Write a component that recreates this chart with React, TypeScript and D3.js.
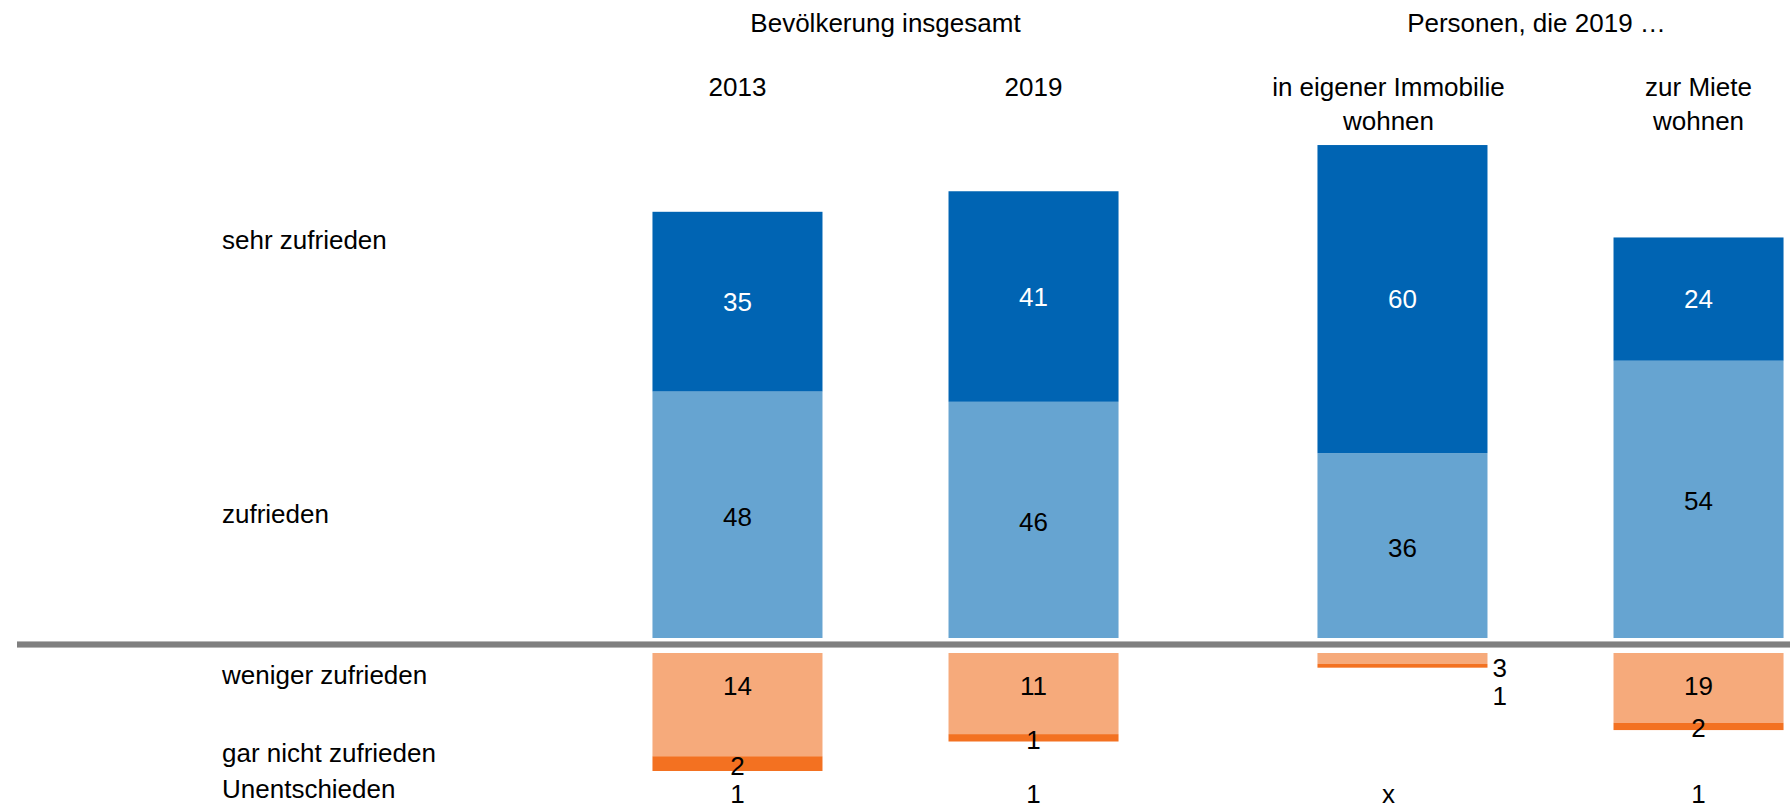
import * as d3 from "d3";

// Zufriedenheit mit der Wohnsituation, Anteile in %
const groups = ["Bevölkerung insgesamt", "Personen, die 2019 …"];
const categories = ["2013", "2019", "eigen", "miete"];
const categoryLines = [["2013"], ["2019"], ["in eigener Immobilie", "wohnen"], ["zur Miete", "wohnen"]];
const categoryGroup = [0, 0, 1, 1];

const sehrZufrieden = [35, 41, 60, 24];
const zufrieden = [48, 46, 36, 54];
const wenigerZufrieden = [14, 11, 3, 19];
const garNichtZufrieden = [2, 1, 1, 2];
const unentschieden = ["1", "1", "x", "1"];

const rowLabels = ["sehr zufrieden", "zufrieden", "weniger zufrieden", "gar nicht zufrieden", "Unentschieden"];

const W = 1790;
const H = 810;
const font = "'Liberation Sans', Arial, sans-serif";
const fs = 26;

const colors = {
  sehr: "#0064b3",
  zuf: "#66a4d1",
  weniger: "#f6aa7b",
  gar: "#f37121",
  rule: "#7f7f7f",
};

// outer scale for the two groups, inner scale for the bars inside a group
const xGroup = d3.scaleBand<number>().domain([0, 1]).range([553, 1883]).padding(0);
const xInner = d3
  .scaleBand<number>()
  .domain([0, 1])
  .range([0, xGroup.bandwidth()])
  .paddingInner(0.4257)
  .paddingOuter(0.336);

const barX = (i: number) => {
  const g = categoryGroup[i];
  const within = categoryGroup.slice(0, i).filter((d) => d === g).length;
  return (xGroup(g) as number) + (xInner(within) as number);
};
const bw = xInner.bandwidth();

// positive part
const yPos = d3.scaleLinear().domain([0, 100]).range([638, 124.5]);
// negative part (the original uses a different depth per group)
const yNeg = [
  d3.scaleLinear().domain([0, 20]).range([653, 800.5]),
  d3.scaleLinear().domain([0, 20]).range([653, 726.4]),
];

// small shift of the texts in the third column, as in the original
const textShift = [0, 0, -14, 0];

const rowLabelY = [240, 514, 675, 753, 789];

export default function App() {
  return (
    <svg
      width={W}
      height={H}
      style={{ position: "absolute", left: 0, top: 0, background: "#fff" }}
      fontFamily={font}
      fontSize={fs}
    >
      {/* group headers */}
      {groups.map((g, gi) => {
        const cols = categories.map((_, i) => i).filter((i) => categoryGroup[i] === gi);
        const cx = (barX(cols[0]) + barX(cols[cols.length - 1]) + bw) / 2 + (gi === 1 ? -14 : 0);
        return (
          <text key={g} x={cx} y={23} textAnchor="middle" dominantBaseline="central" fill="#000">
            {g}
          </text>
        );
      })}

      {/* category headers */}
      {categories.map((c, i) =>
        categoryLines[i].map((line, li) => (
          <text
            key={c + li}
            x={barX(i) + bw / 2 + textShift[i]}
            y={87 + li * 34}
            textAnchor="middle"
            dominantBaseline="central"
            fill="#000"
          >
            {line}
          </text>
        ))
      )}

      {/* row labels */}
      {rowLabels.map((r, i) => (
        <text key={r} x={222} y={rowLabelY[i]} dominantBaseline="central" fill="#000">
          {r}
        </text>
      ))}

      {/* positive bars */}
      {categories.map((c, i) => {
        const x = barX(i);
        const y0 = yPos(0);
        const y1 = yPos(zufrieden[i]);
        const y2 = yPos(zufrieden[i] + sehrZufrieden[i]);
        return (
          <g key={"p" + c}>
            <rect x={x} y={y1} width={bw} height={y0 - y1} fill={colors.zuf} />
            <rect x={x} y={y2} width={bw} height={y1 - y2} fill={colors.sehr} />
            <text x={x + bw / 2} y={(y1 + y2) / 2} textAnchor="middle" dominantBaseline="central" fill="#fff">
              {sehrZufrieden[i]}
            </text>
            <text x={x + bw / 2} y={(y0 + y1) / 2 + 2} textAnchor="middle" dominantBaseline="central" fill="#000">
              {zufrieden[i]}
            </text>
          </g>
        );
      })}

      {/* separator */}
      <line x1={17} x2={W} y1={644.5} y2={644.5} stroke="#c8c8c8" strokeWidth={7} />
      <line x1={17} x2={W} y1={644.5} y2={644.5} stroke={colors.rule} strokeWidth={5.5} />

      {/* negative bars */}
      {categories.map((c, i) => {
        const x = barX(i);
        const y = yNeg[categoryGroup[i]];
        const t0 = y(0);
        const t1 = y(wenigerZufrieden[i]);
        const t2 = y(wenigerZufrieden[i] + garNichtZufrieden[i]);
        const small = t1 - t0 < 20;
        return (
          <g key={"n" + c}>
            <rect x={x} y={t0} width={bw} height={t1 - t0} fill={colors.weniger} />
            <rect x={x} y={t1} width={bw} height={t2 - t1} fill={colors.gar} />
            {small ? (
              <>
                <text x={x + bw + 5} y={t2} dominantBaseline="central" fill="#000">
                  {wenigerZufrieden[i]}
                </text>
                <text x={x + bw + 5} y={t2 + 28} dominantBaseline="central" fill="#000">
                  {garNichtZufrieden[i]}
                </text>
              </>
            ) : (
              <>
                <text
                  x={x + bw / 2}
                  y={t0 + Math.min((t1 - t0) / 2, 33)}
                  textAnchor="middle"
                  dominantBaseline="central"
                  fill="#000"
                >
                  {wenigerZufrieden[i]}
                </text>
                <text x={x + bw / 2} y={(t1 + t2) / 2 + 2} textAnchor="middle" dominantBaseline="central" fill="#000">
                  {garNichtZufrieden[i]}
                </text>
              </>
            )}
          </g>
        );
      })}

      {/* Unentschieden */}
      {categories.map((c, i) => (
        <text
          key={"u" + c}
          x={barX(i) + bw / 2 + textShift[i]}
          y={794}
          textAnchor="middle"
          dominantBaseline="central"
          fill="#000"
        >
          {unentschieden[i]}
        </text>
      ))}
    </svg>
  );
}
